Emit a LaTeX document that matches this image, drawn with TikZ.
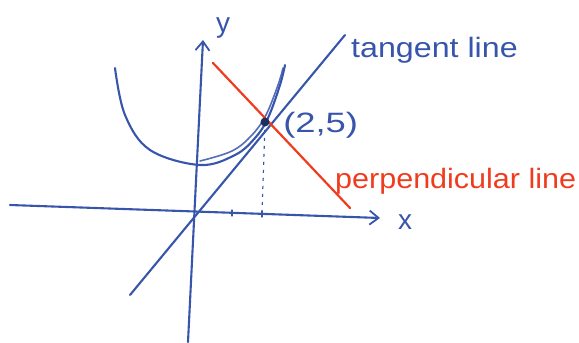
\documentclass[tikz,border=0pt]{standalone}
\usepackage{fontspec}
\setmainfont{Liberation Sans}
\usetikzlibrary{arrows.meta}
\definecolor{penblue}{RGB}{55,85,170}
\definecolor{penred}{RGB}{240,60,30}
\tikzset{
  pen/.style={penblue, line width=2.1pt, line cap=round},
  redpen/.style={penred, line width=2.2pt, line cap=round},
  axisarrow/.style={-{Straight Barb[length=9pt,width=14pt,line width=1.8pt]}},
  hand/.style={font=\fontsize{28}{30}\selectfont, inner sep=0pt, anchor=base west}
}
\begin{document}
\begin{tikzpicture}[x=1pt,y=-1pt]
\useasboundingbox (0,0) rectangle (579,343);
% coordinates
\coordinate (xs) at (10,205);
\coordinate (xe) at (380,218);
\coordinate (ys) at (188,342);
\coordinate (ye) at (203,40);
\coordinate (ts) at (130,295);
\coordinate (te) at (345,35);
\coordinate (rs) at (213,63);
\coordinate (re) at (350,208);
\coordinate (P) at (265,122);
\coordinate (Pb) at (262,214);
% axes
\draw[pen, axisarrow] (xs) -- (xe);
\draw[pen, axisarrow] (ys) -- (ye);
% ticks
\draw[pen, line width=1.3pt] (232,210) -- (232,216);
\draw[pen, line width=1.3pt] (262,211) -- (262,217);
% dotted
\draw[penblue, line width=1.2pt, dash pattern=on 3pt off 5pt] (P) -- (Pb);
% tangent
\draw[pen] (ts) -- (te);
% parabola
\draw[pen] plot[smooth, tension=0.6] coordinates {(115,68) (125,115) (150,150) (200,165) (235,155) (255,138) (268,118) (280,85) (285,65)};
\draw[pen, line width=1.6pt, opacity=0.85] plot[smooth, tension=0.6] coordinates {(200,161) (232,151) (252,135) (266,115) (278,85) (283,68)};
% red perpendicular
\draw[redpen] (rs) -- (re);
\fill[penblue!55!black] (P) circle (4.5pt);
% labels
\node[hand, penblue] (ylab) at (216,32) {y};
\node[hand, penblue] (xlab) at (398,229) {x};
\node[hand, penblue, xscale=1.15] (tl) at (351,57) {tangent line};
\node[hand, penblue, xscale=1.3] (pt) at (283,132) {(2,5)};
\node[hand, penred, xscale=1.09] (pl) at (335,188) {perpendicular line};
\end{tikzpicture}
\end{document}
